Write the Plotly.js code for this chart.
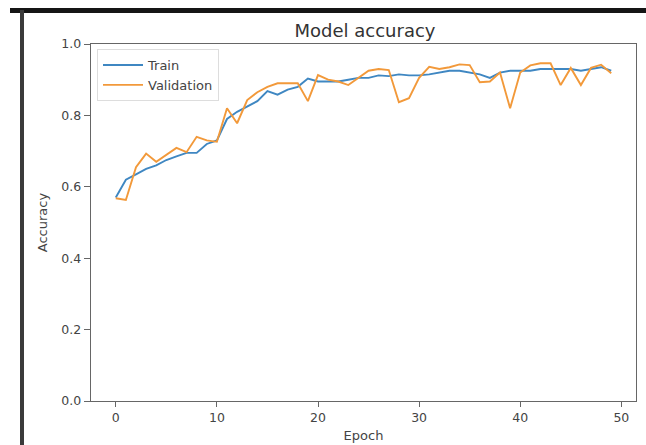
<!DOCTYPE html>
<html>
<head>
<meta charset="utf-8">
<script src="https://cdn.plot.ly/plotly-3.0.1.min.js"></script>
<style>
html,body{margin:0;padding:0;background:#fff;}
#chart{width:646px;height:445px;}
</style>
</head>
<body>
<div id="chart"></div>
<script>
const epochs = Array.from({length: 50}, (_, i) => i);
const trainAcc = [0.57,0.62,0.635,0.65,0.66,0.675,0.685,0.695,0.695,0.72,
                  0.73,0.79,0.81,0.825,0.84,0.868,0.858,0.872,0.88,0.903,
                  0.895,0.895,0.895,0.9,0.905,0.905,0.912,0.91,0.915,0.912,
                  0.912,0.915,0.92,0.925,0.925,0.92,0.915,0.905,0.92,0.925,
                  0.925,0.925,0.93,0.93,0.93,0.93,0.925,0.93,0.935,0.925];
const valAcc = [0.568,0.563,0.655,0.693,0.67,0.69,0.709,0.697,0.74,0.73,
                0.726,0.82,0.778,0.843,0.865,0.88,0.89,0.89,0.89,0.84,
                0.913,0.9,0.895,0.885,0.905,0.925,0.93,0.927,0.837,0.848,
                0.905,0.936,0.93,0.935,0.943,0.941,0.893,0.895,0.92,0.82,
                0.92,0.94,0.946,0.946,0.885,0.933,0.885,0.933,0.942,0.918];
const xTicks = [0,10,20,30,40,50];
const yTicks = [0.0,0.2,0.4,0.6,0.8,1.0];

const L = 91, R = 636, T = 44, B = 401, W = 646, H = 445;
const px = v => (v - L) / (R - L);
const py = v => (B - v) / (B - T);

const traces = [
  {x: epochs, y: trainAcc, name: 'Train', type: 'scatter', mode: 'lines',
   line: {color: '#3f87c2', width: 1.9}},
  {x: epochs, y: valAcc, name: 'Validation', type: 'scatter', mode: 'lines',
   line: {color: '#f2993a', width: 1.9}}
];

const FAM = 'DejaVu Sans, sans-serif';
const tickFont = {family: FAM, size: 12.5, color: '#444'};

const layout = {
  width: W, height: H,
  margin: {l: L, r: W - R, t: T, b: H - B},
  paper_bgcolor: '#fff', plot_bgcolor: '#fff',
  showlegend: true,
  title: {text: 'Model accuracy', x: px(365), xanchor: 'center', xref: 'paper', y: 1 - 31 / H, yanchor: 'middle',
          font: {family: FAM, size: 18, color: '#333'}},
  xaxis: {range: [-2.45, 51.45], tickvals: xTicks, ticktext: xTicks.map(String),
          showgrid: false, zeroline: false, showline: true, mirror: true,
          linecolor: '#666', linewidth: 1.3, ticks: 'outside', ticklen: 5, tickcolor: '#666',
          tickfont: tickFont,
          title: {text: 'Epoch', standoff: 6, font: {family: FAM, size: 13, color: '#444'}}},
  yaxis: {range: [0, 1], tickvals: yTicks, ticktext: yTicks.map(v => v.toFixed(1)),
          showgrid: false, zeroline: false, showline: true, mirror: true,
          linecolor: '#666', linewidth: 1.3, ticks: 'outside', ticklen: 6, tickcolor: '#666',
          tickfont: tickFont,
          title: {text: 'Accuracy', standoff: 10, font: {family: FAM, size: 13, color: '#444'}}},
  legend: {x: px(97), y: py(49), xanchor: 'left', yanchor: 'top',
           bgcolor: '#fff', bordercolor: '#ddd', borderwidth: 1,
           font: {family: FAM, size: 13, color: '#444'},
           itemwidth: 40, tracegroupgap: 2},
  shapes: [
    {type: 'rect', xref: 'paper', yref: 'paper', x0: px(10), x1: px(646), y0: py(13), y1: py(8),
     fillcolor: '#151515', line: {width: 0}, layer: 'above'},
    {type: 'rect', xref: 'paper', yref: 'paper', x0: px(20), x1: px(24), y0: py(445), y1: py(10),
     fillcolor: '#3a3a3a', line: {width: 0}, layer: 'above'}
  ]
};

Plotly.newPlot('chart', traces, layout, {displayModeBar: false, staticPlot: true});
</script>
</body>
</html>
